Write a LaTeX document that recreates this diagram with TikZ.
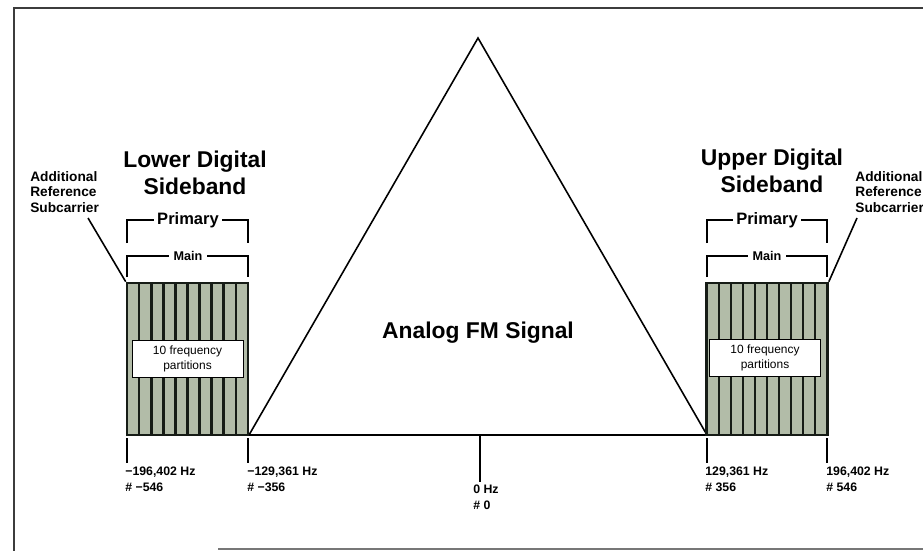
\documentclass[tikz,border=0pt]{standalone}
\usepackage{fontspec}
\setmainfont{Liberation Sans}
\usetikzlibrary{positioning}
\definecolor{bandfill}{RGB}{178,188,168}
\definecolor{bandline}{RGB}{22,28,22}
\definecolor{framegray}{RGB}{60,60,60}

\begin{document}
\begin{tikzpicture}[
    x=0.02cm, y=-0.02cm,
    band/.style={rectangle, draw=bandline, line width=1.5pt, fill=bandfill,
                 minimum width=2.42cm, minimum height=3.04cm, inner sep=0pt},
    divline/.style={draw=bandline, line width=1.5pt},
    partbox/.style={rectangle, draw, fill=white, line width=0.5pt,
                    minimum width=2.22cm, minimum height=0.68cm, align=center,
                    font=\fontsize{6.8}{8.5}\selectfont},
    title/.style={align=center, font=\fontsize{13}{15.5}\selectfont\bfseries},
    note/.style={align=left, inner sep=0pt, anchor=north west,
                 font=\fontsize{7.8}{8.8}\selectfont\bfseries},
    freq/.style={align=left, inner sep=0pt, anchor=north west,
                 font=\fontsize{7}{9}\selectfont\bfseries},
    brk/.style={line width=1pt},
    lead/.style={line width=0.9pt},
    tick/.style={line width=1.2pt}
]
\useasboundingbox (0,0) rectangle (923,551);
\draw[framegray, line width=1.2pt] (14,551) -- (14,8) -- (923,8);
\draw[framegray!70, line width=1.2pt] (218,549) -- (923,549);

% analog signal
\coordinate (apex) at (478,38);
\coordinate (lfoot) at (249,435);
\coordinate (rfoot) at (707,435);
\coordinate (zero) at (480,435);
\draw[line width=0.9pt] (lfoot) -- (apex) -- (rfoot) -- cycle;
\node[font=\fontsize{13}{15}\selectfont\bfseries] (fm) at (478,333) {Analog FM Signal};

% lower sideband
\node[band] (lsb) at (187.5,359) {};
\foreach \i in {1,...,9}
  \draw[divline] (127+\i*12.1,283) -- (127+\i*12.1,435);
\node[partbox] (lpart) at (187.5,359) {10 frequency\\partitions};
\node[title] (ltitle) at (195,173) {Lower Digital\\Sideband};
\draw[brk] (127,243) -- (127,220) -- (248,220) -- (248,243);
\node[fill=white, inner sep=2pt, font=\fontsize{9.4}{11}\selectfont\bfseries] (lprim) at (188,220) {Primary};
\draw[brk] (127,277) -- (127,256) -- (248,256) -- (248,277);
\node[fill=white, inner sep=2.5pt, font=\fontsize{7.2}{9}\selectfont\bfseries] (lmain) at (188,256) {Main};
\node[note] (laddl) at (30,171) {Additional\\Reference\\Subcarrier};
\coordinate (lcall) at (88,218);
\draw[lead] (lcall) -- (lsb.north west);

% upper sideband
\node[band] (usb) at (767,359) {};
\foreach \i in {1,...,9}
  \draw[divline] (707+\i*12,283) -- (707+\i*12,435);
\node[partbox] (upart) at (765,358) {10 frequency\\partitions};
\node[title] (utitle) at (772,171) {Upper Digital\\Sideband};
\draw[brk] (707,243) -- (707,220) -- (827,220) -- (827,243);
\node[fill=white, inner sep=2pt, font=\fontsize{9.4}{11}\selectfont\bfseries] (uprim) at (767,220) {Primary};
\draw[brk] (707,277) -- (707,256) -- (827,256) -- (827,277);
\node[fill=white, inner sep=2.5pt, font=\fontsize{7.2}{9}\selectfont\bfseries] (umain) at (767,256) {Main};
\node[note] (uaddl) at (855,171) {Additional\\Reference\\Subcarrier};
\coordinate (ucall) at (857,218);
\draw[lead] (ucall) -- (usb.north east);

% frequency marks
\draw[tick] (127,438) -- (127,463);
\draw[tick] (248,438) -- (248,463);
\draw[tick] (zero) -- (480,482);
\draw[tick] (707,438) -- (707,463);
\draw[tick] (827,438) -- (827,463);
\node[freq] (f1) at (125,467) {−196,402 Hz\\\# −546};
\node[freq] (f2) at (247,467) {−129,361 Hz\\\# −356};
\node[freq] (f3) at (473,485) {0 Hz\\\# 0};
\node[freq] (f4) at (705,467) {129,361 Hz\\\# 356};
\node[freq] (f5) at (826,467) {196,402 Hz\\\# 546};
\end{tikzpicture}
\end{document}
